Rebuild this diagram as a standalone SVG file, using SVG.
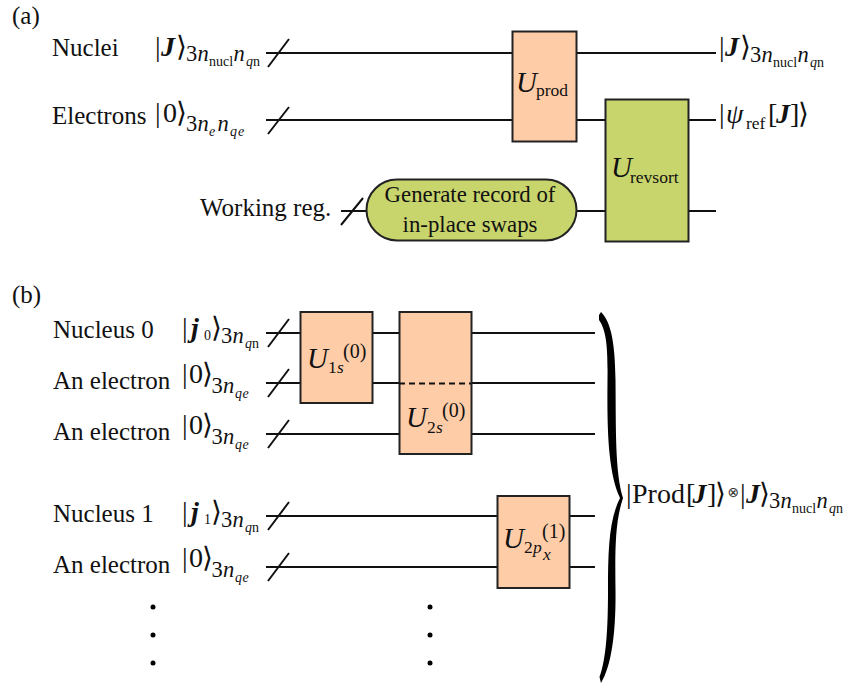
<svg xmlns="http://www.w3.org/2000/svg" width="849" height="690" viewBox="0 0 849 690">
<style>
text{font-family:"Liberation Serif","Noto Sans",serif;font-size:25px;fill:#111}
.i{font-style:italic}.b{font-weight:bold;font-style:italic;font-size:28px}
.h{font-size:28px}.z{font-size:22.500px}
.s{font-size:14px}.u{font-size:29px;font-style:italic}.m{font-size:17.500px}.o{font-size:20px}.g{font-size:22.800px;text-anchor:middle}
.w{stroke:#111;stroke-width:2;fill:none}
.p{fill:#FFCCA8;stroke:#222;stroke-width:2}.k{fill:#C8D46C;stroke:#222;stroke-width:2}
.d{fill:#000;stroke:none}
</style>
<defs>
<g id="nn"><text class="z" x="186" y="61">3</text><text class="z i" x="197.500" y="61">n</text><text class="s" x="209" y="66">nucl</text><text class="z i" x="233.500" y="61">n</text><text class="s i" x="246" y="66">q</text><text class="s" x="253" y="66">n</text></g>
<g id="ze"><text class="h" x="0" y="0">|</text><text class="h" x="7" y="0">0</text><text class="h" x="20" y="0">⟩</text><text class="z" x="29.500" y="10">3</text><text class="z i" x="41" y="10">n</text><text class="s i" x="53" y="15">q</text><text class="s i" x="60.500" y="15">e</text></g>
</defs>
<g id="connectors">
<path class="w" d="M266 53H512M576 53H716M266 120H512M576 120H605M688 120H716M341 211H366M577 211H605M688 211H716"/>
<path class="w" d="M268 67L289 39M268 134L289 107M341 225L363 198"/>
<path class="w" d="M266 333H300M372 333H399M471 333H595M266 383H300M372 383H399M471 383H595M266 434H399M471 434H595M266 516H498M569 516H595M266 567H498M569 567H595"/>
<path class="w" d="M268 347L289 319M268 397L289 369M268 448L289 420M268 530L289 502M268 581L289 553"/>
</g>
<text x="12" y="24">(a)</text>
<text x="12" y="303">(b)</text>
<g id="label-nuclei"><text x="52" y="56">Nuclei</text><text class="h" x="155" y="56">|</text><text class="b" x="161" y="56">J</text><text class="h" x="176" y="56">⟩</text><use href="#nn"/></g>
<g id="label-electrons"><text x="52" y="124">Electrons</text><text class="h" x="155" y="122">|</text><text class="h" x="163" y="122">0</text><text class="h" x="176" y="122">⟩</text><text class="z" x="186" y="131">3</text><text class="z i" x="197.500" y="131">n</text><text class="s i" x="209" y="136">e</text><text class="z i" x="217.500" y="131">n</text><text class="s i" x="230" y="136">q</text><text class="s i" x="238" y="136">e</text></g>
<g id="label-working"><text x="200" y="216">Working reg.</text></g>
<g id="node-uprod"><rect class="p" x="512.500" y="31.500" width="64" height="110"/><text class="u" x="516" y="92">U</text><text class="m" x="536" y="96">prod</text></g>
<g id="node-urevsort"><rect class="k" x="605.500" y="99.500" width="83" height="142"/><text class="u" x="611" y="177">U</text><text class="m" x="630" y="183">revsort</text></g>
<g id="node-generate"><rect class="k" x="366.500" y="179.500" width="210" height="61" rx="30.500"/><text class="g" x="470" y="202">Generate record of</text><text class="g" x="470" y="232">in-place swaps</text></g>
<g id="out-j"><text class="h" x="719" y="56">|</text><text class="b" x="725" y="56">J</text><text class="h" x="740" y="56">⟩</text><use href="#nn" x="564" y="1"/></g>
<g id="out-psi"><text class="h" x="719" y="123">|</text><text class="h i" x="726" y="123">ψ</text><text class="m" x="746" y="129">ref</text><text class="h" x="768" y="123">[</text><text class="b" x="776" y="123">J</text><text class="h" x="790" y="123">]</text><text class="h" x="798" y="123">⟩</text></g>
<g id="label-n0"><text x="53" y="338">Nucleus 0</text><text class="h" x="182" y="337">|</text><text class="b" x="191" y="337">j</text><text class="s" x="204" y="340">0</text><text class="h" x="211" y="337">⟩</text><text class="z" x="221" y="343">3</text><text class="z i" x="232.500" y="343">n</text><text class="s i" x="245" y="348">q</text><text class="s" x="252" y="348">n</text></g>
<g id="label-e1"><text x="53" y="389">An electron</text><use href="#ze" x="182" y="383"/></g>
<g id="label-e2"><text x="53" y="440">An electron</text><use href="#ze" x="182" y="434"/></g>
<g id="label-n1"><text x="53" y="522">Nucleus 1</text><text class="h" x="182" y="521">|</text><text class="b" x="191" y="521">j</text><text class="s" x="204" y="524">1</text><text class="h" x="211" y="521">⟩</text><text class="z" x="221" y="527">3</text><text class="z i" x="232.500" y="527">n</text><text class="s i" x="245" y="532">q</text><text class="s" x="252" y="532">n</text></g>
<g id="label-e3"><text x="53" y="573">An electron</text><use href="#ze" x="182" y="567"/></g>
<g id="node-u1s"><rect class="p" x="300.500" y="312" width="72" height="91"/><text class="u" x="307" y="368">U</text><text class="m" x="328" y="373">1</text><text class="m i" x="337" y="373">s</text><text class="o" x="343" y="358">(0)</text></g>
<g id="node-u2s"><rect class="p" x="399.500" y="312" width="72" height="142"/><path class="w" stroke-dasharray="6 4" d="M399 383.500H471"/><text class="u" x="406" y="427">U</text><text class="m" x="427" y="433">2</text><text class="m i" x="436" y="433">s</text><text class="o" x="442" y="417">(0)</text></g>
<g id="node-u2p"><rect class="p" x="497.500" y="496" width="72" height="92"/><text class="u" x="503" y="548">U</text><text class="m" x="524" y="553">2</text><text class="m i" x="533" y="553">p</text><text class="m i" x="543" y="560">x</text><text class="o" x="542" y="538">(1)</text></g>
<g id="dots"><circle class="d" cx="153" cy="607" r="2.500"/><circle class="d" cx="153" cy="635" r="2.500"/><circle class="d" cx="153" cy="663" r="2.500"/><circle class="d" cx="430" cy="607" r="2.500"/><circle class="d" cx="430" cy="635" r="2.500"/><circle class="d" cx="430" cy="663" r="2.500"/></g>
<g id="brace"><path class="d" d="M599 315L601 312C611 322 615 342 615.500 380C616 430 615 472 623 498C615 522 615 550 615.500 590C616 630 612 665 601 683L599.500 677C606 660 608 630 608 590C608 550 609 520 620 498C608 472 607 430 607.500 380C608 345 606 330 599 320Z"/></g>
<g id="result"><text class="h" x="626" y="503">|</text><text class="h" x="632" y="503">Prod</text><text class="h" x="686" y="503">[</text><text class="b" x="692.500" y="503">J</text><text class="h" x="707" y="503">]</text><text class="h" x="714.500" y="503">⟩</text><text x="727.500" y="497" style="font-family:'DejaVu Sans',sans-serif;font-size:14px;fill:#333">⊗</text><text class="h" x="740" y="503">|</text><text class="b" x="746" y="503">J</text><text class="h" x="759" y="503">⟩</text><use href="#nn" x="583" y="447"/></g>
</svg>
